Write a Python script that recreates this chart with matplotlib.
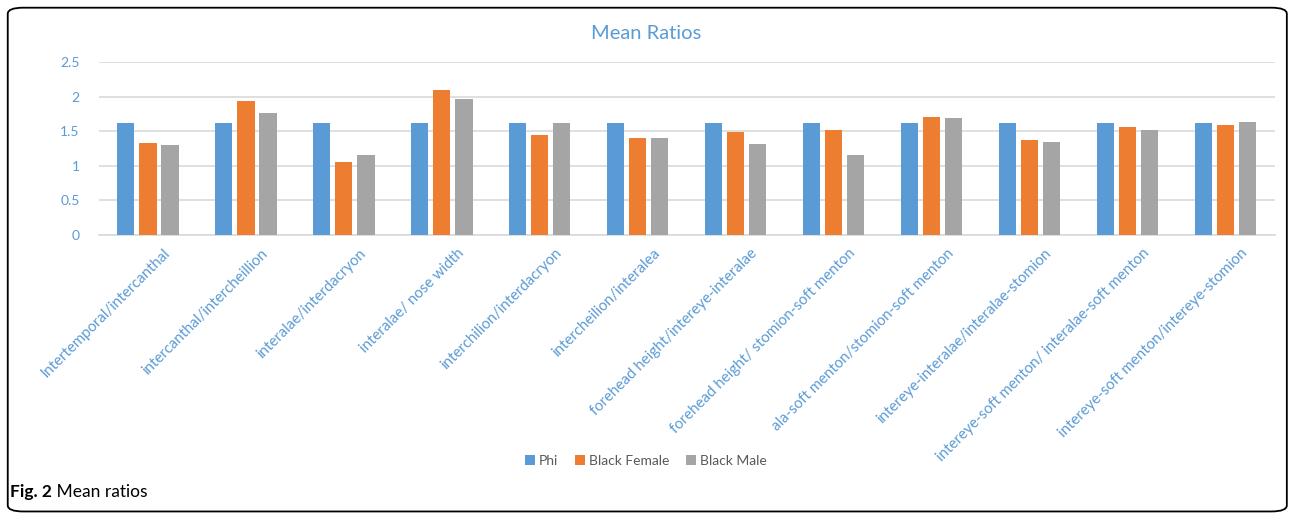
import numpy as np
import matplotlib.pyplot as plt
from matplotlib.patches import FancyBboxPatch

plt.rcParams['font.family'] = ['Lato', 'DejaVu Sans']

ratios = ['Intertemporal/intercanthal', 'intercanthal/intercheillion', 'interalae/interdacryon',
          'interalae/ nose width', 'interchilion/interdacryon', 'intercheilion/interalea',
          'forehead height/intereye-interalae', 'forehead height/ stomion-soft menton',
          'ala-soft menton/stomion-soft menton', 'intereye-interalae/interalae-stomion',
          'intereye-soft menton/ interalae-soft menton', 'intereye-soft menton/intereye-stomion']
phi = [1.618] * 12
black_female = [1.33, 1.94, 1.06, 2.10, 1.45, 1.40, 1.49, 1.52, 1.71, 1.37, 1.56, 1.59]
black_male = [1.30, 1.76, 1.15, 1.96, 1.62, 1.40, 1.32, 1.15, 1.69, 1.35, 1.52, 1.64]

blue = '#5B9BD5'
orange = '#ED7D31'
gray = '#A5A5A5'

fig = plt.figure(figsize=(12.92, 5.13), dpi=100)
ax = fig.add_axes([0.0766, 0.5419, 0.91, 0.3372])

x = np.arange(len(ratios))
w = 0.175
ax.bar(x - 0.225, phi, w, color=blue, label='Phi', zorder=3)
ax.bar(x, black_female, w, color=orange, label='Black Female', zorder=3)
ax.bar(x + 0.225, black_male, w, color=gray, label='Black Male', zorder=3)

ax.set_xlim(-0.5, 11.5)
ax.set_ylim(0, 2.5)
ax.set_yticks([0, 0.5, 1, 1.5, 2, 2.5])
ax.set_yticklabels(['0', '0.5', '1', '1.5', '2', '2.5'])
ax.grid(axis='y', color='#D9D9D9', linewidth=1.2, zorder=0)
for s in ['top', 'right', 'left']:
    ax.spines[s].set_visible(False)
ax.spines['bottom'].set_color('#D9D9D9')
ax.spines['bottom'].set_linewidth(1.2)
ax.tick_params(axis='y', length=0, pad=14, labelcolor=blue, labelsize=10)
ax.tick_params(axis='x', length=0, pad=8)
ax.set_xticks(x + 0.15)
ax.set_xticklabels(ratios, rotation=45, ha='right', rotation_mode='anchor',
                   color=blue, fontsize=10.8)

fig.text(0.5, 0.935, 'Mean Ratios', ha='center', va='center', color=blue, fontsize=14.5)

ax.legend(loc='center', bbox_to_anchor=(0.5, 0.101), bbox_transform=fig.transFigure,
          ncol=3, frameon=False, fontsize=10, handlelength=0.7, handleheight=0.7,
          columnspacing=1.2, handletextpad=0.3, labelcolor='#595959')

cap = fig.text(0.008, 0.04, 'Fig. 2', fontsize=12.5, fontweight='bold', va='center')
fig.text(0, 0, ' Mean ratios', fontsize=12.5, va='center', ha='left',
         transform=cap.get_transform())
fig.texts[-1].remove()
ax.annotate(' Mean ratios', xy=(1, 0.5), xycoords=cap, fontsize=12.5, va='center', ha='left')

border = FancyBboxPatch((0.006, 0.003), 0.99, 0.982, boxstyle='round,pad=0,rounding_size=0.012',
                        transform=fig.transFigure, fill=False, edgecolor='black', linewidth=1.3)
fig.patches.append(border)

fig.savefig('out.png', dpi=100)
